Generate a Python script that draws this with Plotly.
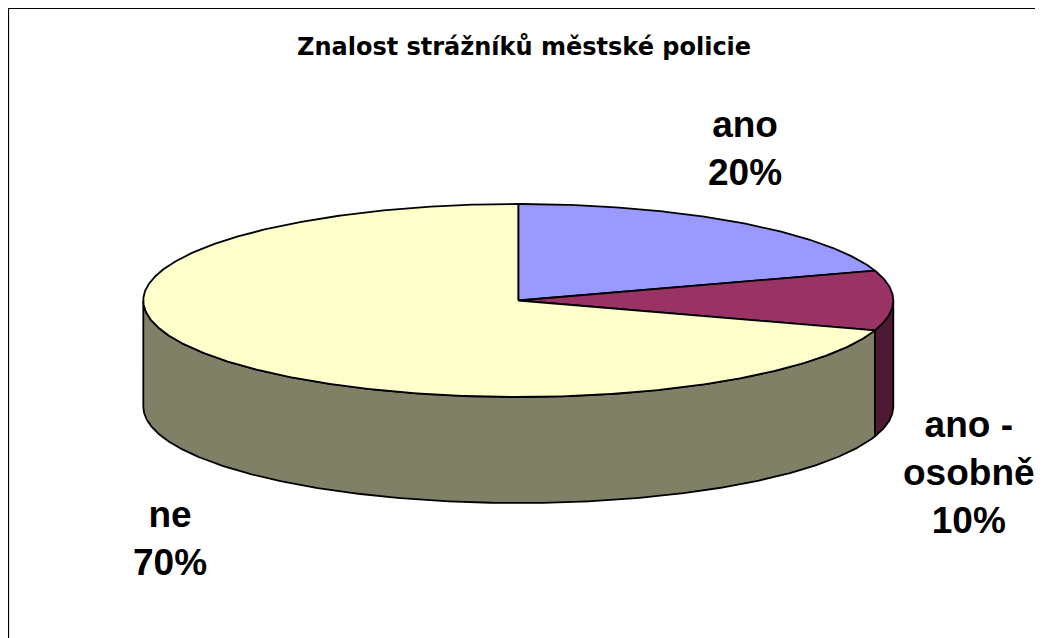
import numpy as np
import plotly.graph_objects as go

# ---- data ----
categories = ["ano", "ano - osobně", "ne"]
values = [20, 10, 70]
label_texts = ["ano<br>20%", "ano -<br>osobně<br>10%", "ne<br>70%"]
title_text = "Znalost strážníků městské policie"

# ---- styles ----
top_colors = ["#9999FF", "#993366", "#FFFFCC"]
side_colors = ["#4C4C80", "#4D1933", "#808066"]
label_pos = [(745, 148), (969, 472), (170, 538)]

W, H = 1043, 638
OFF = 8  # browser body margin: the plot starts at page pixel 8
CX, CY, RX, RY, DEPTH = 518.3, 300.5, 375.0, 96.5, 106.0
LABEL_FONT = "Liberation Sans, Arial, sans-serif"
TITLE_FONT = "DejaVu Sans, Arial, sans-serif"


def ellipse_pts(a0, a1, dy=0.0, n=None):
    if n is None:
        n = max(4, int(abs(a1 - a0) * 2))
    t = np.radians(np.linspace(a0, a1, n))
    return CX + RX * np.sin(t), CY - RY * np.cos(t) + dy


fracs = np.array(values, dtype=float) / np.sum(values)
ends = np.cumsum(fracs) * 360.0
starts = np.concatenate([[0.0], ends[:-1]])

fig = go.Figure()

# visible outer walls (front half: 90..270 deg clockwise from top)
for cat, a0, a1, sc in zip(categories, starts, ends, side_colors):
    a, b = max(a0, 90.0), min(a1, 270.0)
    if a < b:
        xt, yt = ellipse_pts(a, b)
        xb, yb = ellipse_pts(b, a, dy=DEPTH)
        xs = np.concatenate([xt, xb, xt[:1]])
        ys = np.concatenate([yt, yb, yt[:1]])
        fig.add_trace(go.Scatter(x=xs, y=ys, mode="lines", fill="toself",
                                 fillcolor=sc, line=dict(color="black", width=1.8),
                                 hoverinfo="skip", showlegend=False))

# top faces
for cat, a0, a1, tc in zip(categories, starts, ends, top_colors):
    xa, ya = ellipse_pts(a0, a1)
    xs = np.concatenate([[CX], xa, [CX]])
    ys = np.concatenate([[CY], ya, [CY]])
    fig.add_trace(go.Scatter(x=xs, y=ys, mode="lines", fill="toself",
                             fillcolor=tc, line=dict(color="black", width=1.8),
                             name=cat, hoverinfo="name", showlegend=False))

annotations = [dict(x=524, y=47, text="<b>" + title_text + "</b>", showarrow=False,
                    xref="x", yref="y", xanchor="center", yanchor="middle",
                    font=dict(family=TITLE_FONT, size=24, color="black"))]
for txt, (lx, ly) in zip(label_texts, label_pos):
    annotations.append(dict(x=lx, y=ly, text="<b>" + txt + "</b>", showarrow=False,
                            xref="x", yref="y", xanchor="center", yanchor="middle",
                            align="center",
                            font=dict(family=LABEL_FONT, size=37, color="black")))

fig.update_layout(
    width=W - OFF, height=H - OFF, autosize=False,
    margin=dict(l=0, r=0, t=0, b=0),
    paper_bgcolor="white", plot_bgcolor="white",
    xaxis=dict(range=[OFF, W], visible=False, fixedrange=True),
    yaxis=dict(range=[H, OFF], visible=False, fixedrange=True),
    annotations=annotations,
    shapes=[dict(type="rect", xref="x", yref="y", x0=8, y0=8, x1=1041, y1=H + 20,
                 line=dict(color="black", width=2.2), fillcolor="rgba(0,0,0,0)",
                 layer="below")],
    showlegend=False,
)

fig.write_html("out.html")
